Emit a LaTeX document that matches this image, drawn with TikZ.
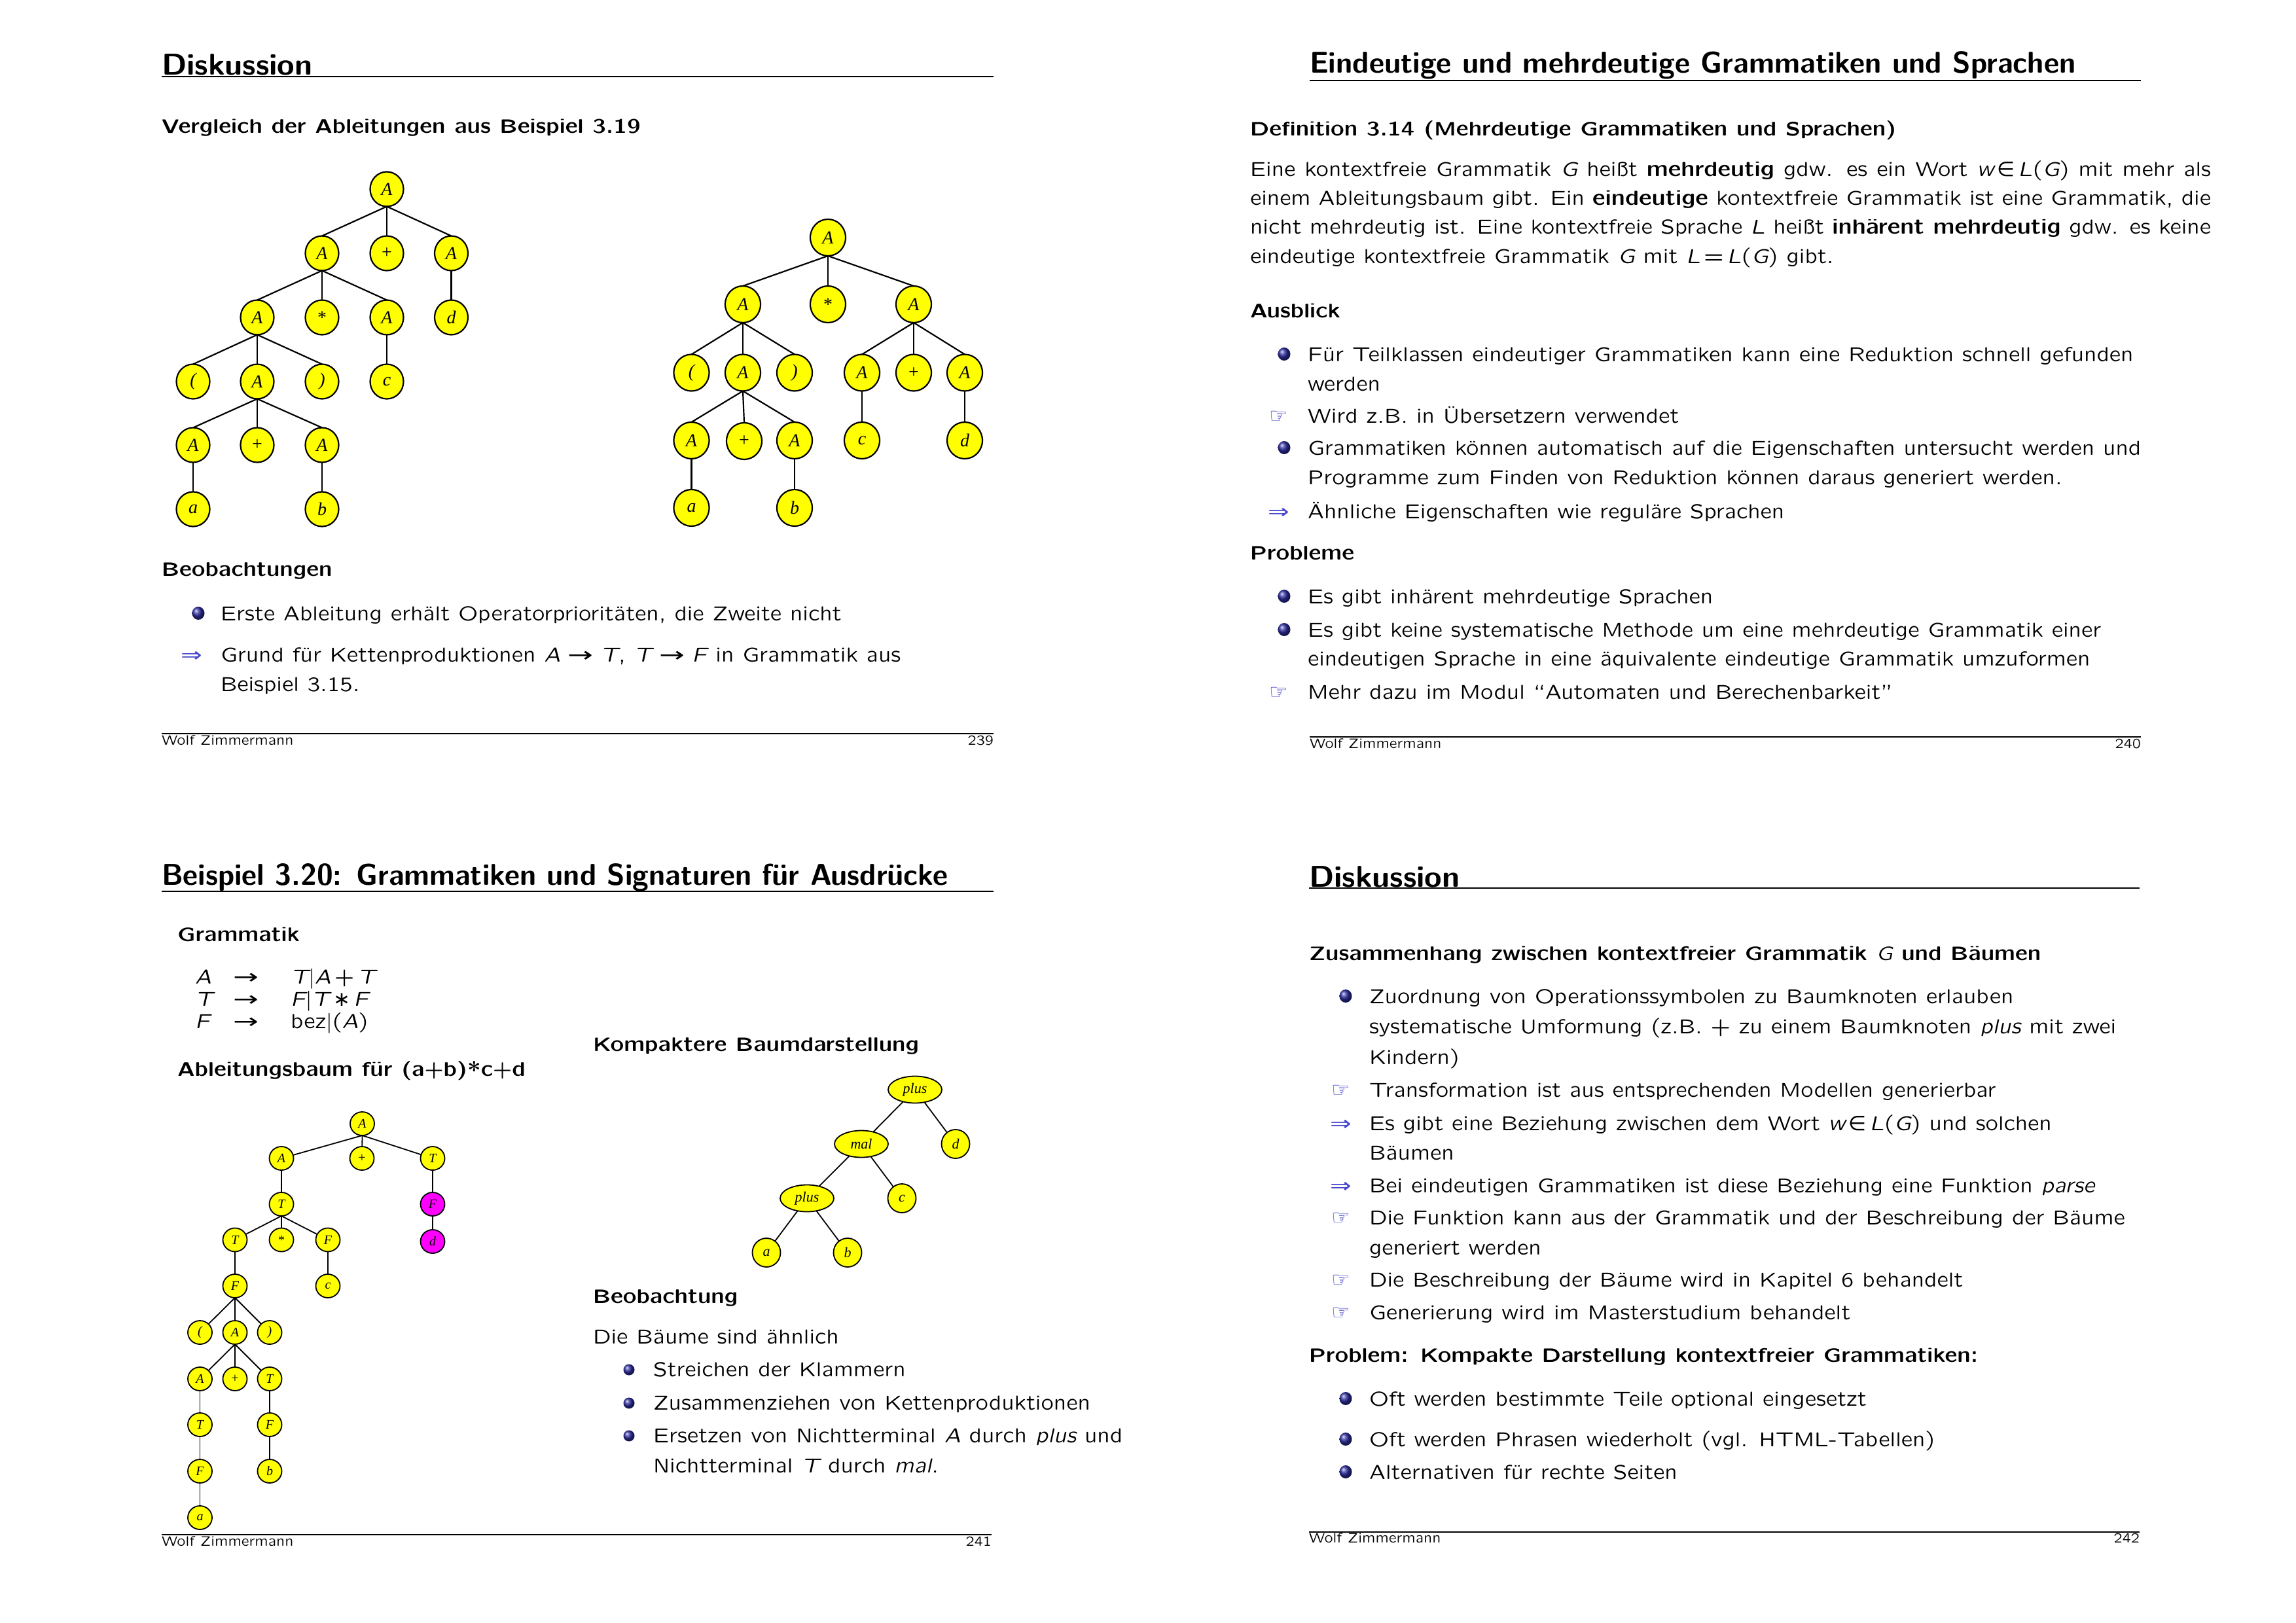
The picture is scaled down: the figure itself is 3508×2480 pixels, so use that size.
\documentclass[tikz,border=0pt]{standalone}
\usepackage{graphicx}
\usepackage{fontspec}
\setsansfont{lmsansquot8}[Extension=.otf,UprightFont=*-regular,BoldFont=*-bold,ItalicFont=*-oblique,BoldItalicFont=*-boldoblique]
\newfontfamily\lmbold{lmsans10-bold}[Extension=.otf]
\newfontfamily\tms{Liberation Serif}
\newfontfamily\djv{DejaVu Sans}
\usetikzlibrary{shapes.geometric}
\definecolor{nodeyellow}{RGB}{255,255,0}
\definecolor{nodemag}{RGB}{255,0,255}
\definecolor{ballblue}{RGB}{45,45,160}
\definecolor{symblue}{RGB}{70,70,205}
\definecolor{handblue}{RGB}{55,55,195}
\newcommand\bodyfont{\sffamily\fontsize{31}{38}\selectfont}
\newcommand\headfont{\sffamily\bfseries\fontsize{30}{37}\selectfont}
\newcommand\ttlfont{\lmbold\fontsize{46}{52}\selectfont}
\newcommand\footfont{\sffamily\fontsize{21}{25}\selectfont}
\newcommand\mi[1]{{\mdseries\itshape #1}}
\newcommand\sy[1]{{\mdseries\upshape\djv #1}}
\newcommand\longarr{\sy{\scalebox{1.5}[1]{→}}}
\newcommand\rarr{\hspace{11pt}\longarr\hspace{11pt}}
\newcommand\hnd{{\color{handblue}\djv\fontsize{32}{32}\selectfont ☞}}
\newcommand\Rarr{{\djv\fontsize{34}{34}\selectfont\scalebox{1.15}[0.9]{⇒}}}
\begin{document}
\begin{tikzpicture}[x=1pt,y=-1pt,
  every node/.style={inner sep=0pt,outer sep=0pt},
  txt/.style={anchor=base west,font=\bodyfont},
  hd/.style={anchor=base west,font=\headfont},
  ttl/.style={anchor=base west,font=\ttlfont},
  ft/.style={anchor=base west,font=\footfont},
  ftr/.style={anchor=base east,font=\footfont},
  rul/.style={line width=1.8pt},
  ballnode/.style={ellipse,minimum width=19pt,minimum height=20pt,ball color=ballblue},
  arr/.style={anchor=base,font=\bodyfont,text=symblue},
  tA/.style={ellipse,draw,line width=2.2pt,fill=nodeyellow,minimum width=51pt,minimum height=53pt,font=\tms\itshape\fontsize{28}{28}\selectfont},
  tB/.style={tA,minimum width=54pt,minimum height=56pt},
  tC/.style={ellipse,draw,line width=1.8pt,fill=nodeyellow,minimum width=37pt,minimum height=36pt,font=\tms\itshape\fontsize{20}{20}\selectfont},
  tCm/.style={tC,fill=nodemag},
  tD/.style={ellipse,draw,line width=1.8pt,fill=nodeyellow,minimum width=43pt,minimum height=44pt,font=\tms\itshape\fontsize{22}{22}\selectfont},
  tDw/.style={tD,minimum width=82pt,minimum height=41pt},
  te/.style={line width=2.2pt},
  tf/.style={line width=1.8pt}
]
\fill[white] (0,0) rectangle (3508,2480);
\useasboundingbox (0,0) rectangle (3508,2480);

%================ Slide 1 =================
\node[ttl] (s1t) at (247,115) {\scalebox{1.05}[1]{Diskussion}};
\draw[rul] (247,117) -- (1518,117);
\node[hd] (s1h1) at (247,204) {Vergleich der Ableitungen aus Beispiel 3.19};
% tree 1
\node[tA] (t1r) at (591,289) {A};
\node[tA] (t1a) at (492,387) {A};
\node[tA] (t1p) at (591,387) {\upshape +};
\node[tA] (t1b) at (689.5,387) {A};
\node[tA] (t1c) at (393,485) {A};
\node[tA] (t1s) at (492,485) {\upshape *};
\node[tA] (t1d) at (591,485) {A};
\node[tA] (t1dd) at (689.5,485) {d};
\node[tA] (t1e) at (295,583) {(};
\node[tA] (t1f) at (393,583) {A};
\node[tA] (t1g) at (492,583) {)};
\node[tA] (t1cc) at (591,583) {c};
\node[tA] (t1h) at (295,680) {A};
\node[tA] (t1i) at (393,680) {\upshape +};
\node[tA] (t1j) at (492,680) {A};
\node[tA] (t1k) at (295,778) {a};
\node[tA] (t1l) at (492,778) {b};
\foreach \p/\c in {t1r/t1a,t1r/t1p,t1r/t1b,t1a/t1c,t1a/t1s,t1a/t1d,t1b/t1dd,t1c/t1e,t1c/t1f,t1c/t1g,t1d/t1cc,t1f/t1h,t1f/t1i,t1f/t1j,t1h/t1k,t1j/t1l}
  \draw[te] (\p.south) -- (\c.north);
% tree 2
\node[tB] (ur) at (1265,363) {A};
\node[tB] (ua) at (1135,465) {A};
\node[tB] (us) at (1265,465) {\upshape *};
\node[tB] (ub) at (1396,465) {A};
\node[tB] (uc) at (1056.5,569.5) {(};
\node[tB] (ud) at (1135,569.5) {A};
\node[tB] (ue) at (1214,569.5) {)};
\node[tB] (uf) at (1317,569.5) {A};
\node[tB] (ug) at (1396,569.5) {\upshape +};
\node[tB] (uh) at (1474,569.5) {A};
\node[tB] (ui) at (1056.5,673) {A};
\node[tB] (uj) at (1137,674) {\upshape +};
\node[tB] (uk) at (1214,673) {A};
\node[tB] (ul) at (1317,673) {c};
\node[tB] (um) at (1474,673) {d};
\node[tB] (un) at (1056.5,776) {a};
\node[tB] (uo) at (1214,776) {b};
\foreach \p/\c in {ur/ua,ur/us,ur/ub,ua/uc,ua/ud,ua/ue,ub/uf,ub/ug,ub/uh,ud/ui,ud/uj,ud/uk,uf/ul,uh/um,ui/un,uk/uo}
  \draw[te] (\p.south) -- (\c.north);

\node[hd] (s1h2) at (247,880) {Beobachtungen};
\node[ballnode] (s1b1) at (303,937) {};
\node[txt] (s1l1) at (337,948) {Erste Ableitung erhält Operatorprioritäten, die Zweite nicht};
\node[arr] (s1a1) at (293,1011) {\Rarr};
\node[txt] (s1l2) at (337,1011) {Grund für Kettenproduktionen \mi{A}\rarr\mi{T}, \mi{T}\rarr\mi{F} in Grammatik aus};
\node[txt] (s1l3) at (337,1056) {Beispiel 3.15.};
\draw[rul] (247,1121) -- (1518,1121);
\node[ft] (s1f1) at (247,1138) {Wolf Zimmermann};
\node[ftr] (s1f2) at (1518,1138) {239};

%================ Slide 2 =================
\node[ttl] (s2t) at (2001,112) {\scalebox{0.98}[1]{Eindeutige und mehrdeutige Grammatiken und Sprachen}};
\draw[rul] (2001,123) -- (3271,123);
\node[hd] (s2h1) at (1910,208) {Definition 3.14 (Mehrdeutige Grammatiken und Sprachen)};
\node[txt] (s2p1) at (1910,270) {\makebox[1468pt][s]{Eine kontextfreie Grammatik \mi{G} heißt \textbf{mehrdeutig} gdw. es ein Wort \mi{w}\,\sy{∈}\,\mi{L}(\mi{G}) mit mehr als}};
\node[txt] (s2p2) at (1910,314) {\makebox[1468pt][s]{einem Ableitungsbaum gibt. Ein \textbf{eindeutige} kontextfreie Grammatik ist eine Grammatik, die}};
\node[txt] (s2p3) at (1910,358) {\makebox[1468pt][s]{nicht mehrdeutig ist. Eine kontextfreie Sprache \mi{L} heißt \textbf{inhärent mehrdeutig} gdw. es keine}};
\node[txt] (s2p4) at (1910,402) {eindeutige kontextfreie Grammatik \mi{G} mit \mi{L}\,=\,\mi{L}(\mi{G}) gibt.};
\node[hd] (s2h2) at (1910,485) {Ausblick};
\node[ballnode] (s2b1) at (1962,541) {};
\node[txt] (s2l1) at (1998,552) {Für Teilklassen eindeutiger Grammatiken kann eine Reduktion schnell gefunden};
\node[txt] (s2l2) at (1998,597) {werden};
\node[arr] (s2d1) at (1954,646) {\hnd};
\node[txt] (s2l3) at (1998,646) {Wird z.B. in Übersetzern verwendet};
\node[ballnode] (s2b2) at (1962,684) {};
\node[txt] (s2l4) at (1998,695) {Grammatiken können automatisch auf die Eigenschaften untersucht werden und};
\node[txt] (s2l5) at (1998,740) {Programme zum Finden von Reduktion können daraus generiert werden.};
\node[arr] (s2a1) at (1954,792) {\Rarr};
\node[txt] (s2l6) at (1998,792) {Ähnliche Eigenschaften wie reguläre Sprachen};
\node[hd] (s2h3) at (1910,855) {Probleme};
\node[ballnode] (s2b3) at (1962,911) {};
\node[txt] (s2l7) at (1998,922) {Es gibt inhärent mehrdeutige Sprachen};
\node[ballnode] (s2b4) at (1962,962) {};
\node[txt] (s2l8) at (1998,973) {Es gibt keine systematische Methode um eine mehrdeutige Grammatik einer};
\node[txt] (s2l9) at (1998,1017) {eindeutigen Sprache in eine äquivalente eindeutige Grammatik umzuformen};
\node[arr] (s2d2) at (1954,1068) {\hnd};
\node[txt] (s2l10) at (1998,1068) {Mehr dazu im Modul ``Automaten und Berechenbarkeit''};
\draw[rul] (2001,1126) -- (3271,1126);
\node[ft] (s2f1) at (2001,1143) {Wolf Zimmermann};
\node[ftr] (s2f2) at (3271,1143) {240};

%================ Slide 3 =================
\node[ttl] (s3t) at (247,1352) {\scalebox{0.976}[1]{Beispiel 3.20: Grammatiken und Signaturen für Ausdrücke}};
\draw[rul] (247,1362) -- (1518,1362);
\node[hd] (s3h1) at (271,1438) {Grammatik};
\node[txt] (g1l) at (298,1503) {\mi{A}};
\node[txt] (g1a) at (356,1503) {\longarr};
\node[txt] (g1r) at (444,1503) {\mi{T}|\mi{A}\,+\,\mi{T}};
\node[txt] (g2l) at (298,1537) {\mi{T}};
\node[txt] (g2a) at (356,1537) {\longarr};
\node[txt] (g2r) at (444,1537) {\mi{F}|\mi{T}\,\sy{∗}\,\mi{F}};
\node[txt] (g3l) at (298,1571) {\mi{F}};
\node[txt] (g3a) at (356,1571) {\longarr};
\node[txt] (g3r) at (444,1571) {bez|(\mi{A})};
\node[hd] (s3h2) at (271,1644) {Ableitungsbaum für (a{\mdseries+}b)*c{\mdseries+}d};
% derivation tree
\node[tC] (vr) at (553.5,1717) {A};
\node[tC] (va) at (430,1770) {A};
\node[tC] (vp) at (553,1770) {\upshape +};
\node[tC] (vt) at (661,1770) {T};
\node[tC] (vb) at (430,1840) {T};
\node[tCm] (vf) at (661,1840) {F};
\node[tC] (vc) at (359,1894.5) {T};
\node[tC] (vs) at (430,1894.5) {\upshape *};
\node[tC] (vd) at (501,1894.5) {F};
\node[tCm] (vdd) at (661,1897) {d};
\node[tC] (ve) at (359,1965) {F};
\node[tC] (vcc) at (501,1965) {c};
\node[tC] (vg) at (305.5,2036) {(};
\node[tC] (vh) at (359,2036) {A};
\node[tC] (vi) at (412,2036) {)};
\node[tC] (vj) at (305.5,2107) {A};
\node[tC] (vk) at (359,2107) {\upshape +};
\node[tC] (vl) at (412,2107) {T};
\node[tC] (vm) at (305.5,2177) {T};
\node[tC] (vn) at (412,2177) {F};
\node[tC] (vo) at (305.5,2248) {F};
\node[tC] (vbb) at (412,2248) {b};
\node[tC] (vq) at (305.5,2319) {a};
\foreach \p/\c in {vr/va,vr/vp,vr/vt,va/vb,vt/vf,vb/vc,vb/vs,vb/vd,vf/vdd,vc/ve,vd/vcc,ve/vg,ve/vh,ve/vi,vh/vj,vh/vk,vh/vl,vj/vm,vl/vn,vm/vo,vn/vbb,vo/vq}
  \draw[tf] (\p.south) -- (\c);
% compact tree
\node[hd] (s3h3) at (906,1606) {Kompaktere Baumdarstellung};
\node[tDw] (wr) at (1398,1665) {plus};
\node[tDw] (wm) at (1316,1748) {mal};
\node[tD] (wd) at (1460,1748) {d};
\node[tDw] (wp) at (1233,1831) {plus};
\node[tD] (wc) at (1378,1831) {c};
\node[tD] (wa) at (1171,1914) {a};
\node[tD] (wb) at (1295,1914) {b};
\foreach \p/\c in {wr/wm,wr/wd,wm/wp,wm/wc,wp/wa,wp/wb}
  \draw[tf] (\p) -- (\c);
\node[hd] (s3h4) at (906,1991) {Beobachtung};
\node[txt] (s3l0) at (906,2053) {Die Bäume sind ähnlich};
\node[ballnode,minimum width=17pt,minimum height=17pt] (s3b1) at (961,2093) {};
\node[txt] (s3l1) at (998,2103) {Streichen der Klammern};
\node[ballnode,minimum width=17pt,minimum height=17pt] (s3b2) at (961,2144) {};
\node[txt] (s3l2) at (998,2154) {Zusammenziehen von Kettenproduktionen};
\node[ballnode,minimum width=17pt,minimum height=17pt] (s3b3) at (961,2194) {};
\node[txt] (s3l3) at (998,2204) {Ersetzen von Nichtterminal \mi{A} durch \mi{plus} und};
\node[txt] (s3l4) at (998,2250) {Nichtterminal \mi{T} durch \mi{mal}.};
\draw[rul] (247,2345) -- (1515,2345);
\node[ft] (s3f1) at (247,2362) {Wolf Zimmermann};
\node[ftr] (s3f2) at (1515,2362) {241};

%================ Slide 4 =================
\node[ttl] (s4t) at (2000,1355) {\scalebox{1.05}[1]{Diskussion}};
\draw[rul] (2000,1357) -- (3269,1357);
\node[hd] (s4h1) at (2000,1467) {Zusammenhang zwischen kontextfreier Grammatik \mi{G} und Bäumen};
\node[ballnode] (s4b1) at (2056,1522) {};
\node[txt] (s4l1) at (2092,1533) {Zuordnung von Operationssymbolen zu Baumknoten erlauben};
\node[txt] (s4l2) at (2092,1579) {systematische Umformung (z.B. + zu einem Baumknoten \mi{plus} mit zwei};
\node[txt] (s4l3) at (2092,1626) {Kindern)};
\node[arr] (s4d1) at (2049,1676) {\hnd};
\node[txt] (s4l4) at (2092,1676) {Transformation ist aus entsprechenden Modellen generierbar};
\node[arr] (s4a1) at (2049,1727) {\Rarr};
\node[txt] (s4l5) at (2092,1727) {Es gibt eine Beziehung zwischen dem Wort \mi{w}\,\sy{∈}\,\mi{L}(\mi{G}) und solchen};
\node[txt] (s4l6) at (2092,1772) {Bäumen};
\node[arr] (s4a2) at (2049,1822) {\Rarr};
\node[txt] (s4l7) at (2092,1822) {Bei eindeutigen Grammatiken ist diese Beziehung eine Funktion \mi{parse}};
\node[arr] (s4d2) at (2049,1871) {\hnd};
\node[txt] (s4l8) at (2092,1871) {Die Funktion kann aus der Grammatik und der Beschreibung der Bäume};
\node[txt] (s4l9) at (2092,1917) {generiert werden};
\node[arr] (s4d3) at (2049,1966) {\hnd};
\node[txt] (s4l10) at (2092,1966) {Die Beschreibung der Bäume wird in Kapitel 6 behandelt};
\node[arr] (s4d4) at (2049,2016) {\hnd};
\node[txt] (s4l11) at (2092,2016) {Generierung wird im Masterstudium behandelt};
\node[hd] (s4h2) at (2000,2081) {Problem: Kompakte Darstellung kontextfreier Grammatiken:};
\node[ballnode] (s4b2) at (2056,2137) {};
\node[txt] (s4l12) at (2092,2148) {Oft werden bestimmte Teile optional eingesetzt};
\node[ballnode] (s4b3) at (2056,2199) {};
\node[txt] (s4l13) at (2092,2210) {Oft werden Phrasen wiederholt (vgl. HTML-Tabellen)};
\node[ballnode] (s4b4) at (2056,2249) {};
\node[txt] (s4l14) at (2092,2260) {Alternativen für rechte Seiten};
\draw[rul] (2000,2341) -- (3269,2341);
\node[ft] (s4f1) at (2000,2357) {Wolf Zimmermann};
\node[ftr] (s4f2) at (3269,2357) {242};
\end{tikzpicture}
\end{document}
